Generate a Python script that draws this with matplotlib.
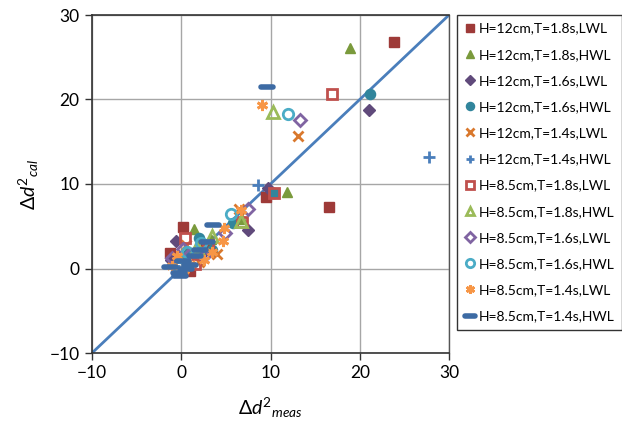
import matplotlib
matplotlib.use("Agg")
import matplotlib.pyplot as plt
from matplotlib.markers import MarkerStyle

plt.rcParams['font.family'] = ['Lato', 'DejaVu Sans']
plt.rcParams['mathtext.fontset'] = 'custom'
plt.rcParams['mathtext.it'] = 'Lato:italic'
plt.rcParams['mathtext.rm'] = 'Lato'

labels = ["H=12cm,T=1.8s,LWL", "H=12cm,T=1.8s,HWL", "H=12cm,T=1.6s,LWL",
          "H=12cm,T=1.6s,HWL", "H=12cm,T=1.4s,LWL", "H=12cm,T=1.4s,HWL",
          "H=8.5cm,T=1.8s,LWL", "H=8.5cm,T=1.8s,HWL", "H=8.5cm,T=1.6s,LWL",
          "H=8.5cm,T=1.6s,HWL", "H=8.5cm,T=1.4s,LWL", "H=8.5cm,T=1.4s,HWL"]

s1_x = [23.8, 16.6, 9.5, 0.2, -1.3, 2.8, 1.0]
s1_y = [26.8, 7.3, 8.5, 4.9, 1.8, 2.4, -0.3]
s2_x = [18.9, 11.8, 1.4, 6.8, 3.3, 0.5]
s2_y = [26.1, 9.0, 4.7, 5.9, 3.5, 1.8]
s3_x = [21.0, 9.75, 7.5, -0.6, 2.5, -1.2]
s3_y = [18.7, 9.5, 4.6, 3.3, 2.0, 1.0]
s4_x = [21.2, 10.4, 2.0, 5.8, 0.8, 3.5]
s4_y = [20.6, 8.9, 3.6, 5.4, 1.7, 2.2]
s5_x = [13.1, 4.0, 6.5, 2.0, 0.5]
s5_y = [15.7, 1.7, 7.0, 0.8, 2.8]
s6_x = [27.8, 8.6, 1.0, -0.8]
s6_y = [13.2, 9.9, 1.5, 0.3]
s7_x = [16.9, 10.4, 0.4, 6.8, 1.5, 3.0]
s7_y = [20.7, 8.9, 3.6, 5.5, 0.5, 2.8]
s8_x = [10.3, 6.7, 3.4, 1.8]
s8_y = [18.5, 5.6, 3.8, 2.6]
s9_x = [13.3, 7.5, 4.9, 0.2, 2.5, -1.0]
s9_y = [17.6, 7.0, 4.2, 2.3, 1.5, 1.2]
s10_x = [12.0, 5.6, 0.6, 2.2, -0.3]
s10_y = [18.3, 6.4, 2.0, 3.0, 0.2]
s11_x = [9.0, 6.7, 4.8, 4.7, -1.0, 0.3, 1.0, 2.5, 3.5, -0.5]
s11_y = [19.4, 6.9, 4.8, 3.3, 0.3, -0.2, 0.5, 1.0, 2.0, 1.5]
s12_x = [9.6, 3.6, -0.1, -1.3, 1.0, 2.1, 2.85, 0.2, -0.2, 1.5, 0.5]
s12_y = [21.5, 5.1, -0.9, 0.2, 0.4, 2.2, 3.1, 0.9, -0.5, 1.5, 0.0]

xs = [s1_x, s2_x, s3_x, s4_x, s5_x, s6_x, s7_x, s8_x, s9_x, s10_x, s11_x, s12_x]
ys = [s1_y, s2_y, s3_y, s4_y, s5_y, s6_y, s7_y, s8_y, s9_y, s10_y, s11_y, s12_y]

ticks = [-10, 0, 10, 20, 30]
line_x = [-10, 30]

styles = [
    dict(marker='s', ms=7, mfc='#9E3A38', mec='#9E3A38', mew=1),
    dict(marker='^', ms=7.5, mfc='#7A9A3C', mec='#7A9A3C', mew=1),
    dict(marker='D', ms=6.3, mfc='#604A7B', mec='#604A7B', mew=1),
    dict(marker='o', ms=7.3, mfc='#31859C', mec='#31859C', mew=1),
    dict(marker='x', ms=7, mfc='none', mec='#D9782D', mew=2),
    dict(marker='+', ms=8, mfc='none', mec='#4A7EBB', mew=2),
    dict(marker='s', ms=7, mfc='none', mec='#C0504D', mew=2),
    dict(marker='^', ms=8, mfc='none', mec='#9BBB59', mew=2),
    dict(marker='D', ms=6.5, mfc='none', mec='#8064A2', mew=2),
    dict(marker='o', ms=7.5, mfc='none', mec='#4BACC6', mew=2),
    dict(marker=(6, 2, 0), ms=8, mfc='none', mec='#F79646', mew=2),
    dict(marker=MarkerStyle('_', capstyle='round'), ms=9, mfc='none', mec='#3D6BA4', mew=4),
]

fig = plt.figure(figsize=(6.22, 4.28), dpi=100)
ax = fig.add_axes([92/622, 1-353/428, (449-92)/622, (353-15)/428])

ax.plot(line_x, line_x, color='#4A7EBB', lw=2, zorder=2)
handles = []
for x, y, lab, st in zip(xs, ys, labels, styles):
    h, = ax.plot(x, y, linestyle='none', label=lab, zorder=3, **st)
    handles.append(h)

ax.set_xlim(-10, 30)
ax.set_ylim(-10, 30)
ax.set_xticks(ticks)
ax.set_yticks(ticks)
ax.grid(True, color='#A6A6A6', lw=1)
ax.set_axisbelow(True)
for s in ['left', 'bottom', 'top']:
    ax.spines[s].set_color('#333333')
    ax.spines[s].set_linewidth(1.2)
ax.spines['right'].set_color('#555555')
ax.spines['right'].set_linewidth(1)
ax.tick_params(direction='out', length=5, width=1, color='#333333',
               labelsize=12.5, pad=4)
for lab in ax.get_xticklabels() + ax.get_yticklabels():
    lab.set_clip_on(False)

ax.set_xlabel(r'$\mathit{\Delta d}^{2}{}_{meas}$', fontsize=14, labelpad=10)
ax.set_ylabel(r'$\mathit{\Delta d}^{2}{}_{cal}$', fontsize=14, labelpad=6)

leg = fig.legend(handles=handles, loc='upper left',
                 bbox_to_anchor=(457/622, 1-15/428), fontsize=10,
                 frameon=True, fancybox=False, edgecolor='black',
                 borderpad=0.55, labelspacing=1.02, handlelength=0.7,
                 handletextpad=0.3, borderaxespad=0, markerscale=0.8)
leg.get_frame().set_linewidth(1)

fig.savefig('out.png', dpi=100)
